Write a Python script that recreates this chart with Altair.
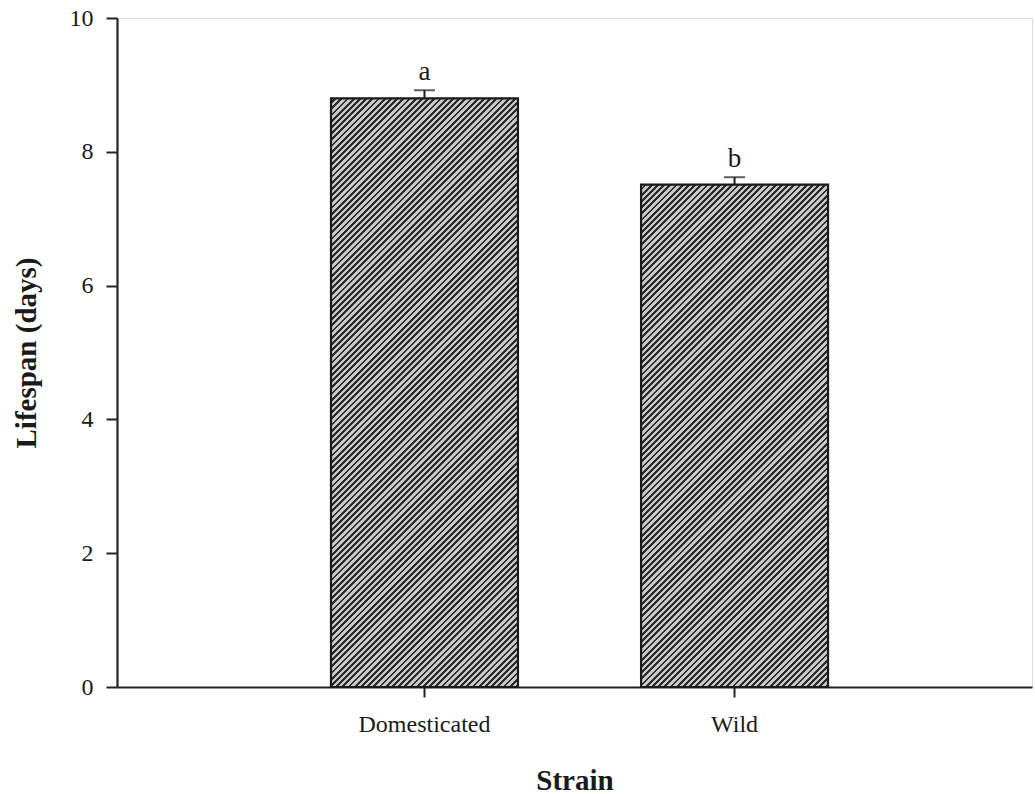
import altair as alt
import pandas as pd

strains = ["Domesticated", "Wild"]
lifespan = [8.80, 7.51]
err_upper = [8.92, 7.62]
letters = ["a", "b"]

df = pd.DataFrame({"strain": strains, "lifespan": lifespan,
                   "err": err_upper, "letter": letters})

W, H = 915, 669
YMAX = 10
PI, PO, ALIGN = 0.397, 0.674, 0.512
FONT = "Liberation Serif"
step = W / (len(strains) - PI + 2 * PO)
bandw = step * (1 - PI)

GRAY = "#c8c8c8"
DARK = "#2a2a2a"
PERIOD_H = 6.2  # horizontal hatch period in px


def hatch(value):
    w = bandw
    h = value * H / YMAX
    span = w + h
    k = span / (w * w + h * h)
    n = int(span / PERIOD_H) + 2
    p = PERIOD_H / span
    stops = []
    for i in range(n):
        a = i * p
        if a > 1:
            break
        b = (i + 0.55) * p
        c = (i + 1) * p
        stops.append({"offset": min(a, 1), "color": GRAY})
        stops.append({"offset": min(b, 1), "color": GRAY})
        stops.append({"offset": min(b, 1), "color": DARK})
        stops.append({"offset": min(c, 1), "color": DARK})
    return {"gradient": "linear", "x1": 0, "y1": 0,
            "x2": w * k, "y2": h * k, "stops": stops}


xenc = alt.X("strain:N", sort=strains, title="Strain",
             scale=alt.Scale(paddingInner=PI, paddingOuter=PO, align=ALIGN),
             axis=alt.Axis(labelAngle=0, labelFont=FONT, labelFontSize=24,
                           labelColor="#1a1a1a", labelPadding=15,
                           tickSize=10, tickWidth=2, tickColor="#222",
                           domainWidth=2.2, domainColor="#222",
                           titleFont=FONT, titleFontSize=29, titleFontWeight="bold",
                           titleColor="#1a1a1a", titlePadding=30))
yscale = alt.Scale(domain=[0, YMAX])
yaxis = alt.Axis(values=[0, 2, 4, 6, 8, 10], format="d", grid=False, labelFont=FONT,
                 labelFontSize=24, labelColor="#1a1a1a", labelPadding=13,
                 tickSize=11, tickWidth=2, tickColor="#222",
                 domainWidth=2.2, domainColor="#222",
                 titleFont=FONT, titleFontSize=29, titleFontWeight="bold",
                 titleColor="#1a1a1a", titlePadding=28)

base = alt.Chart(df)

bar_layers = []
for s, v in zip(strains, lifespan):
    bar_layers.append(
        base.transform_filter(alt.datum.strain == s)
        .mark_bar(fill=hatch(v), stroke="#1a1a1a", strokeWidth=2.2)
        .encode(x=xenc, y=alt.Y("lifespan:Q", scale=yscale, axis=yaxis,
                                title="Lifespan (days)"))
    )

rule = base.mark_rule(color="#1a1a1a", strokeWidth=2).encode(
    x=alt.X("strain:N", sort=strains), y="lifespan:Q", y2="err:Q")
cap = base.mark_tick(color="#1a1a1a", thickness=2, size=21).encode(
    x=alt.X("strain:N", sort=strains), y="err:Q")
txt = base.mark_text(font=FONT, fontSize=27, color="#1a1a1a", baseline="bottom",
                     dy=-4).encode(
    x=alt.X("strain:N", sort=strains), y="err:Q", text="letter:N")

chart = alt.layer(*bar_layers, rule, cap, txt).properties(
    width=W, height=H,
    autosize=alt.AutoSizeParams(type="none"),
    padding={"left": 117, "top": 18, "right": 3, "bottom": 107},
).configure_view(stroke=None).configure(background="white")

chart.save("out.html", embed_options={"renderer": "svg", "actions": False})
